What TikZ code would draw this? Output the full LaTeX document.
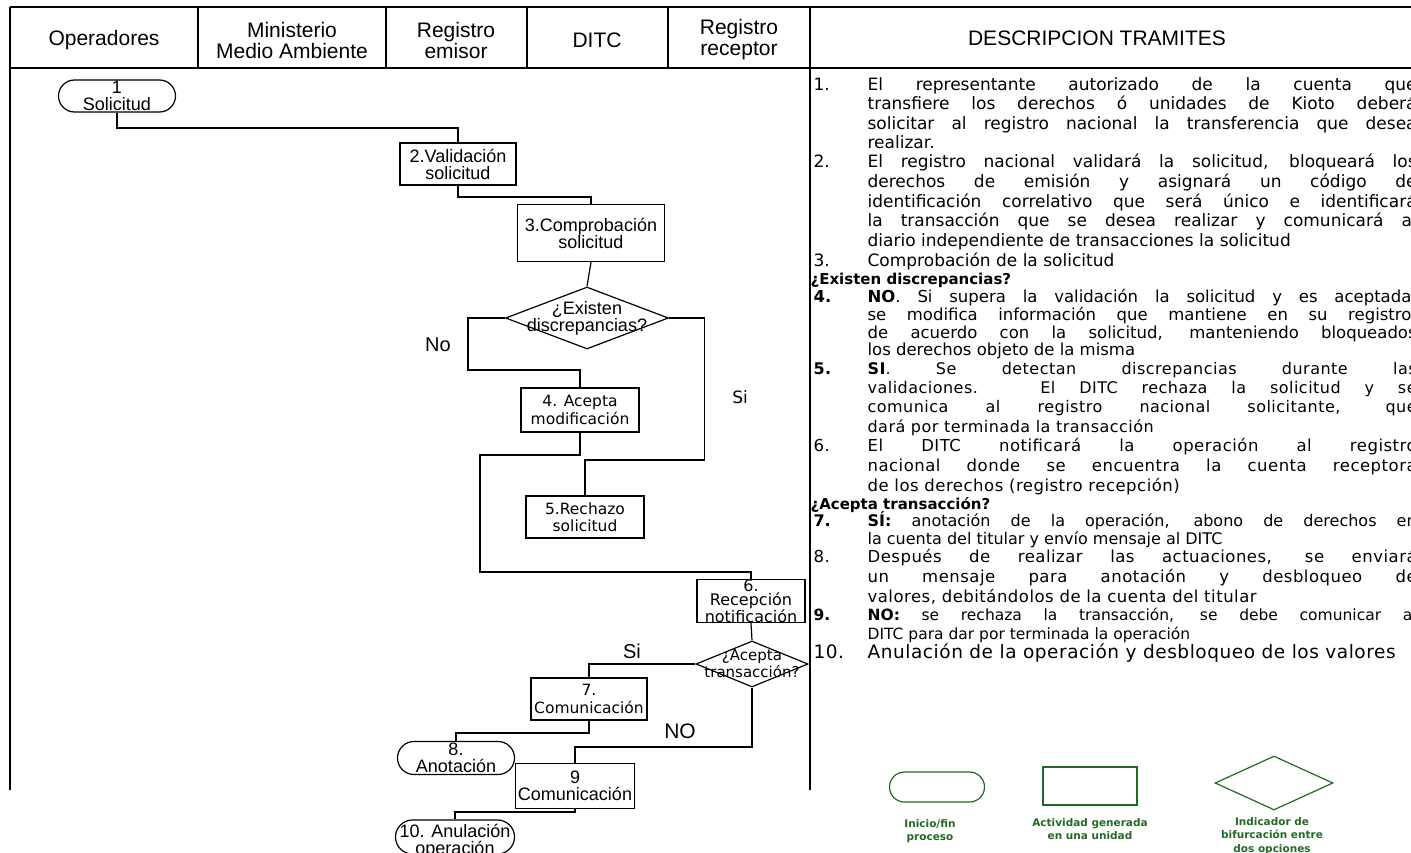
\documentclass[tikz,border=0pt]{standalone}
\usepackage{fontspec}
\setmainfont{Liberation Sans}
\newfontfamily\dv{DejaVu Sans}
\newfontfamily\dvw{DejaVu Sans}[LetterSpace=3]
\usetikzlibrary{shapes.geometric,shapes.misc}
\definecolor{lgreen}{RGB}{35,105,35}
\newcommand\djline[3]{\node[dtext] (#1) at (867,#2) {\makebox[549pt][s]{#3}};}
\newcommand\dlline[3]{\node[dtext] (#1) at (867,#2) {#3};}
\newcommand\dnum[3]{\node[dtext] (#1) at (813,#2) {#3};}
\begin{document}
\begin{tikzpicture}[x=1pt,y=-1pt,line width=1.2pt,
  frame/.style={line width=1.3pt},
  hdr/.style={font=\fontsize{21}{21}\selectfont,align=center,inner sep=0},
  box/.style={draw,rectangle,inner sep=0,align=center},
  term/.style={draw,rounded rectangle,inner sep=0,align=center},
  dia/.style={draw,diamond,inner sep=0},
  nf/.style={font=\fontsize{18}{17}\selectfont},
  wf/.style={font=\dv\fontsize{15.5}{17.5}\selectfont},
  lab/.style={inner sep=0,align=center},
  dfont/.style={font=\dv\fontsize{17}{18}\selectfont},
  dtext/.style={inner sep=0,anchor=base west,dfont},
  dhead/.style={inner sep=0,anchor=base west,font=\dv\bfseries\fontsize{15}{18}\selectfont},
  leg/.style={draw=lgreen,line width=1.2pt,inner sep=0},
  legt/.style={text=lgreen,font=\dv\bfseries\fontsize{10.5}{13.5}\selectfont,align=center,inner sep=0}
]
\useasboundingbox (0,0) rectangle (1411,853);
\begin{scope}
\clip (0,0) rectangle (1411,853);
% table frame
\draw[frame] (10,7) -- (1411,7);
\draw[frame] (10,68) -- (1411,68);
\draw[frame] (10,7) -- (10,790);
\draw[frame] (810,7) -- (810,790);
\foreach \x in {198,386,527,668} \draw[frame] (\x,7) -- (\x,68);
% headers
\node[hdr] (h1) at (104,40) {Operadores};
\node[hdr] (h2) at (292,40) {Ministerio\\Medio Ambiente};
\node[hdr] (h3) at (456,40) {Registro\\emisor};
\node[hdr] (h4) at (597,40) {DITC};
\node[hdr] (h5) at (739,40) {Registro\\receptor};
\node[hdr] (h6) at (1097,38) {DESCRIPCION TRAMITES};
% flowchart nodes
\node[term,nf,minimum width=117,minimum height=32] (n1) at (117,96) {1\\Solicitud};
\node[box,nf,minimum width=116,minimum height=42] (n2) at (458,164) {2.Validación\\solicitud};
\node[box,nf,minimum width=147,minimum height=57] (n3) at (591,233) {3.Comprobación\\solicitud};
\node[dia,minimum width=163,minimum height=62,label={[lab,nf]center:¿Existen\\discrepancias?}] (q1) at (587,318) {};
\node[box,wf,minimum width=118,minimum height=44] (n4) at (580,410) {4. Acepta\\modificación};
\node[box,wf,minimum width=118,minimum height=42] (n5) at (585,517) {5.Rechazo\\solicitud};
\node[box,minimum width=108,minimum height=38,font=\dv\fontsize{16}{13}\selectfont] (n6) at (751,601) {6.\\Recepción\\notificación};
\node[dia,minimum width=112,minimum height=46,label={[lab,font=\dv\fontsize{15}{17}\selectfont]center:¿Acepta\\transacción?}] (q2) at (752,664) {};
\node[box,wf,minimum width=116,minimum height=42] (n7) at (589,699) {7.\\Comunicación};
\node[term,nf,minimum width=117,minimum height=33] (n8) at (456,758) {8.\\Anotación};
\node[box,nf,minimum width=119,minimum height=45] (n9) at (575,786) {9\\Comunicación};
\node[term,minimum width=119,minimum height=34,label={[lab,nf,yshift=-4pt]center:10. Anulación\\operación}] (n10) at (455,837) {};
% branch labels
\node[lab,font=\fontsize{20}{20}\selectfont] (tNo) at (438,345) {No};
\node[lab,font=\dv\fontsize{17}{17}\selectfont] (tSi) at (740,397) {Si};
\node[lab,font=\fontsize{20}{20}\selectfont] (tSi2) at (632,651) {Si};
\node[lab,font=\fontsize{21}{21}\selectfont] (tNO) at (680,731) {NO};
% connectors
\draw (n1.south) |- (n2.north |- 0,128) -- (n2.north);
\draw (n2.south) |- (n3.north |- 0,197) -- (n3.north);
\draw (n3.south) -- (q1.north);
\draw (q1.west) -- ++(-37,0) |- (n4.north |- 0,370) -- (n4.north);
\draw (q1.east) -- ++(35,0) |- (n5.north |- 0,460) -- (n5.north);
\draw (n4.south) |- (480,455) |- (n6.north |- 0,572) -- (n6.north);
\draw (n6.south) -- (q2.north);
\draw (q2.west) -| (n7.north);
\draw (q2.south) |- (n9.north |- 0,747) -- (n9.north);
\draw (n7.south) |- (n8.north |- 0,733) -- (n8.north);
\draw (n9.south) |- (n10.north |- 0,812) -- (n10.north);
% description
\dnum{a1}{91}{1.}
\djline{a1a}{91}{El representante autorizado de la cuenta que}
\djline{a1b}{110}{transfiere los derechos ó unidades de Kioto deberá}
\djline{a1c}{130}{solicitar al registro nacional la transferencia que desea}
\dlline{a1d}{149}{realizar.}
\dnum{a2}{168}{2.}
\djline{a2a}{168}{El registro nacional validará la solicitud, bloqueará los}
\djline{a2b}{188}{derechos de emisión y asignará un código de}
\djline{a2c}{208}{identificación correlativo que será único e identificará}
\djline{a2d}{227}{la transacción que se desea realizar y comunicará al}
\dlline{a2e}{247}{diario independiente de transacciones la solicitud}
\dnum{a3}{266}{3.}
\dlline{a3a}{266}{Comprobación de la solicitud}
\node[dhead] (qa) at (810,284) {¿Existen discrepancias?};
\begin{scope}[dfont/.style={font=\dv\fontsize{16.5}{18}\selectfont}]
\dnum{a4}{302}{\textbf{4.}}
\djline{a4a}{302}{\textbf{NO}. Si supera la validación la solicitud y es aceptada,}
\djline{a4b}{320}{se modifica información que mantiene en su registro,}
\djline{a4c}{338}{de acuerdo con la solicitud, manteniendo bloqueados}
\dlline{a4d}{355}{los derechos objeto de la misma}
\end{scope}
\begin{scope}[dfont/.style={font=\dvw\fontsize{16}{18}\selectfont}]
\dnum{a5}{374}{\textbf{5.}}
\djline{a5a}{374}{\textbf{SI}. Se detectan discrepancias durante las}
\djline{a5b}{393}{validaciones. El DITC rechaza la solicitud y se}
\djline{a5c}{412}{comunica al registro nacional solicitante, que}
\dlline{a5d}{432}{dará por terminada la transacción}
\end{scope}
\begin{scope}[dfont/.style={font=\dvw\fontsize{16.5}{18}\selectfont}]
\dnum{a6}{451}{6.}
\djline{a6a}{451}{El DITC notificará la operación al registro}
\djline{a6b}{471}{nacional donde se encuentra la cuenta receptora}
\dlline{a6c}{491}{de los derechos (registro recepción)}
\end{scope}
\node[dhead] (qb) at (810,509) {¿Acepta transacción?};
\begin{scope}[dfont/.style={font=\dv\fontsize{16}{18}\selectfont}]
\dnum{a7}{526}{\textbf{7.}}
\djline{a7a}{526}{\textbf{SÍ:} anotación de la operación, abono de derechos en}
\dlline{a7b}{544}{la cuenta del titular y envío mensaje al DITC}
\end{scope}
\begin{scope}[dfont/.style={font=\dvw\fontsize{16.5}{18}\selectfont}]
\dnum{a8}{562}{8.}
\djline{a8a}{562}{Después de realizar las actuaciones, se enviará}
\djline{a8b}{582}{un mensaje para anotación y desbloqueo de}
\dlline{a8c}{602}{valores, debitándolos de la cuenta del titular}
\end{scope}
\begin{scope}[dfont/.style={font=\dv\fontsize{15.5}{18}\selectfont}]
\dnum{a9}{620}{\textbf{9.}}
\djline{a9a}{620}{\textbf{NO:} se rechaza la transacción, se debe comunicar al}
\dlline{a9b}{639}{DITC para dar por terminada la operación}
\end{scope}
\begin{scope}[dfont/.style={font=\dvw\fontsize{18.5}{18}\selectfont}]
\dnum{a10}{658}{10.}
\dlline{a10a}{658}{Anulación de la operación y desbloqueo de los valores}
\end{scope}
% legend
\node[leg,rounded rectangle,minimum width=95,minimum height=30] (g1) at (937,787) {};
\node[leg,rectangle,minimum width=94,minimum height=38] (g2) at (1090,786) {};
\node[leg,diamond,minimum width=118,minimum height=54] (g3) at (1274,783) {};
\node[legt] (g1t) at (930,831) {Inicio/fin\\proceso};
\node[legt] (g2t) at (1090,829) {Actividad generada\\en una unidad};
\node[legt] (g3t) at (1272,836) {Indicador de\\bifurcación entre\\dos opciones};
\end{scope}
\end{tikzpicture}
\end{document}
